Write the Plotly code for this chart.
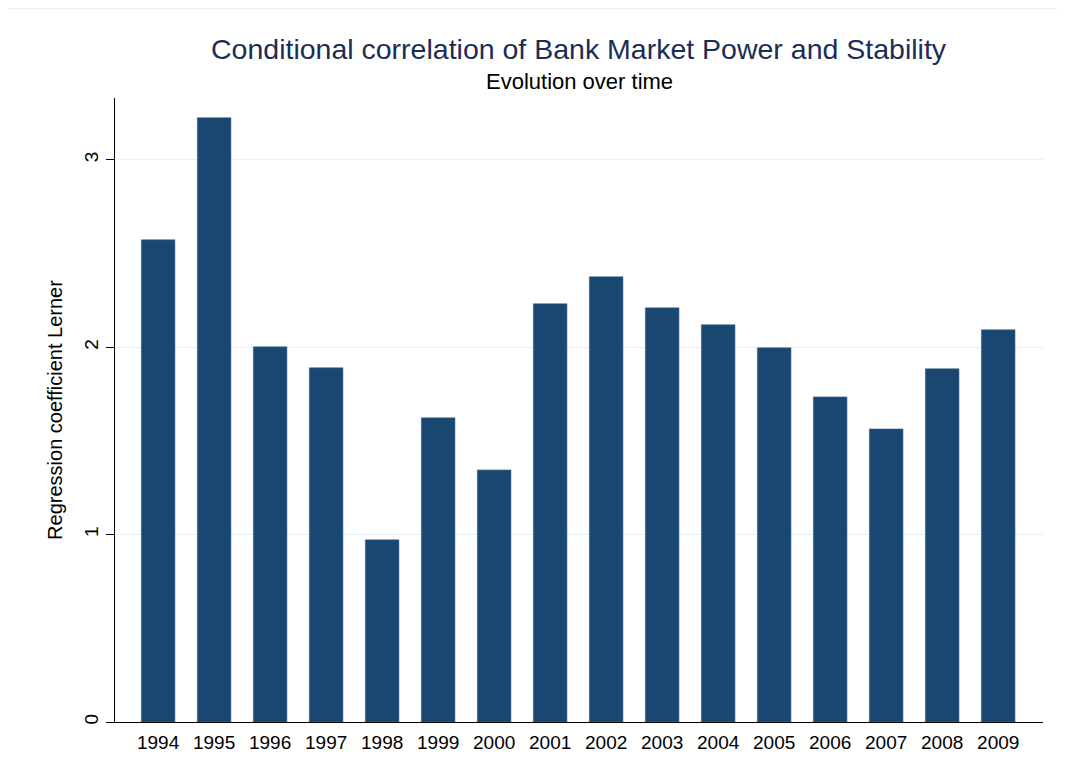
import plotly.graph_objects as go

years = [1994, 1995, 1996, 1997, 1998, 1999, 2000, 2001, 2002, 2003, 2004, 2005, 2006, 2007, 2008, 2009]
coef = [2.573, 3.225, 2.002, 1.890, 0.972, 1.623, 1.345, 2.232, 2.376, 2.210, 2.120, 1.997, 1.735, 1.564, 1.885, 2.093]
ytick_vals = [0, 1, 2, 3]

fig = go.Figure()
fig.add_trace(go.Bar(
    x=years, y=coef, width=0.6,
    marker=dict(color="#1a476f", line=dict(color="#3a6a94", width=0.6)),
))

fig.update_layout(
    width=1065, height=781,
    margin=dict(l=107, r=30, t=90, b=67),
    paper_bgcolor="white", plot_bgcolor="white",
    font=dict(family="Liberation Sans, Arial, sans-serif", color="#000000"),
    showlegend=False,
    xaxis=dict(
        range=[1993.23, 2009.8], tickvals=years, ticktext=[str(y) for y in years],
        showgrid=False, showline=True, linecolor="black", linewidth=1.2,
        ticks="", tickfont=dict(size=19), zeroline=False, ticklabelstandoff=3,
    ),
    yaxis=dict(
        range=[0, 3.33], tickvals=ytick_vals, ticktext=[str(v) for v in ytick_vals],
        tickangle=-90, ticks="outside", ticklen=8, tickcolor="black",
        showline=True, linecolor="black", linewidth=1.2,
        showgrid=True, gridcolor="#e8f0f2", gridwidth=1,
        zeroline=False, tickfont=dict(size=19),
        title=dict(text="Regression coefficient Lerner", font=dict(size=20), standoff=13),
    ),
)
fig.add_annotation(text="Conditional correlation of Bank Market Power and Stability",
                   xref="paper", yref="paper", x=0.5, y=1.079, xanchor="center", yanchor="middle",
                   showarrow=False, font=dict(size=28.5, color="#1c2d55"))
fig.add_annotation(text="Evolution over time",
                   xref="paper", yref="paper", x=0.5, y=1.026, xanchor="center", yanchor="middle",
                   showarrow=False, font=dict(size=22, color="#000000"))
fig.add_shape(type="line", xref="paper", yref="paper", x0=-0.2, x1=1.1, y0=1.143, y1=1.143,
              line=dict(color="#e4ecee", width=1))

fig.write_html("out.html")
